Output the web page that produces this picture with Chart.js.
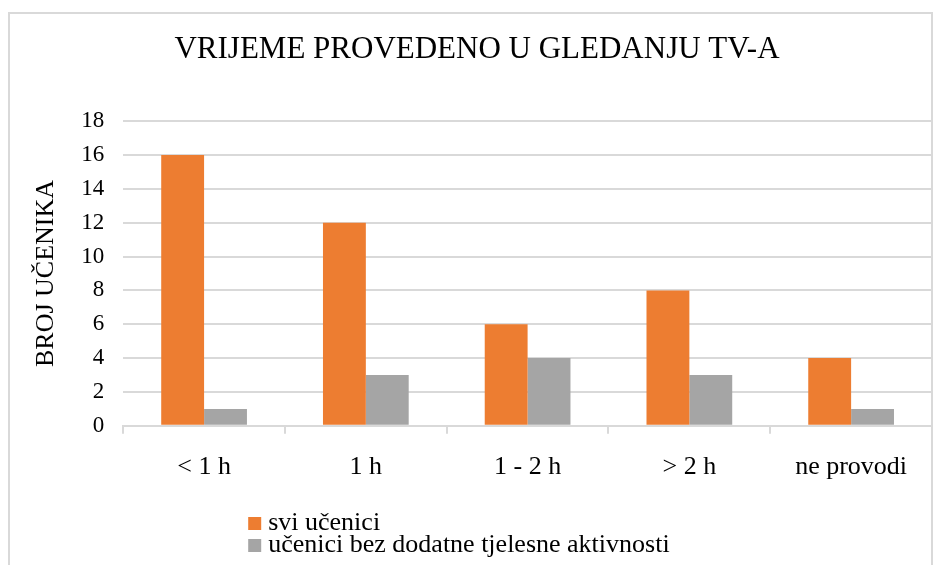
<!DOCTYPE html>
<html>
<head>
<meta charset="utf-8">
<script src="https://cdn.jsdelivr.net/npm/chart.js@4/dist/chart.umd.min.js"></script>
<style>
  html, body { margin: 0; padding: 0; background: #fff; overflow: hidden; }
  #okvir { position: relative; width: 937px; height: 565px; }
  #graf { position: absolute; left: 0; top: 0; }
  #rub { position: absolute; left: 8px; top: 12px; width: 925px; height: 600px; border: 2px solid #d9d9d9; box-sizing: border-box; pointer-events: none; }
</style>
</head>
<body>
<div id="okvir">
  <canvas id="graf" width="937" height="565"></canvas>
  <div id="rub"></div>
</div>
<script>
  const kategorije = ['< 1 h', '1 h', '1 - 2 h', '> 2 h', 'ne provodi'];
  const sviUcenici = [16, 12, 6, 8, 4];
  const bezAktivnosti = [1, 3, 4, 3, 1];
  const nazivSerija = ['svi učenici', 'učenici bez dodatne tjelesne aktivnosti'];
  const boje = ['#ED7D31', '#A5A5A5'];

  const serif = '"Liberation Serif", "Times New Roman", serif';
  const sivaLinija = '#d9d9d9';

  // Legenda ispod grafa, jedna stavka po retku
  const legendaDolje = {
    id: 'legendaDolje',
    afterDraw(chart) {
      const ctx = chart.ctx;
      ctx.save();
      ctx.font = '26px ' + serif;
      ctx.textBaseline = 'middle';
      ctx.textAlign = 'left';
      chart.data.datasets.forEach((ds, i) => {
        const y = chart.height - 42 + i * 22;
        const x = chart.chartArea.left + 125;
        ctx.fillStyle = ds.backgroundColor;
        ctx.fillRect(x, y - 6, 13, 13);
        ctx.fillStyle = '#000';
        ctx.fillText(ds.label, x + 20, y);
      });
      ctx.restore();
    }
  };

  new Chart(document.getElementById('graf'), {
    type: 'bar',
    data: {
      labels: kategorije,
      datasets: [
        { label: nazivSerija[0], data: sviUcenici, backgroundColor: boje[0] },
        { label: nazivSerija[1], data: bezAktivnosti, backgroundColor: boje[1] }
      ]
    },
    options: {
      responsive: false,
      animation: false,
      devicePixelRatio: 1,
      categoryPercentage: 0.53,
      barPercentage: 1,
      layout: { padding: { left: 22, right: 5, top: 12, bottom: 64 } },
      plugins: {
        legend: { display: false },
        tooltip: { enabled: false },
        title: {
          display: true,
          text: 'VRIJEME PROVEDENO U GLEDANJU TV-A',
          color: '#000',
          font: { family: serif, size: 31, weight: 'normal' },
          padding: { top: 19, bottom: 53 }
        }
      },
      scales: {
        x: {
          grid: { display: true, drawOnChartArea: false, drawTicks: true, tickLength: 8, color: sivaLinija, lineWidth: 2, offset: true },
          border: { display: true, color: sivaLinija, width: 2 },
          ticks: { color: '#000', font: { family: serif, size: 26 }, padding: 18, maxRotation: 0 }
        },
        y: {
          min: 0,
          max: 18,
          ticks: { stepSize: 2, color: '#000', font: { family: serif, size: 23 }, padding: 19 },
          grid: { color: sivaLinija, lineWidth: 2, drawTicks: false },
          border: { display: false },
          title: {
            display: true,
            text: 'BROJ UČENIKA',
            color: '#000',
            font: { family: serif, size: 26 },
            padding: { top: 9, bottom: 0 }
          }
        }
      }
    },
    plugins: [legendaDolje]
  });
</script>
</body>
</html>
